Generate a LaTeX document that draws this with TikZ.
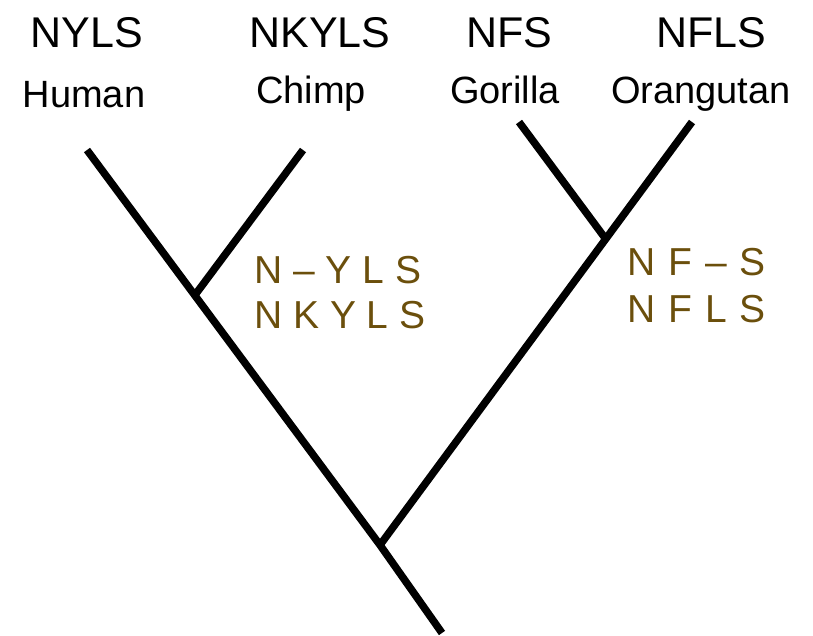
\documentclass[tikz,border=0pt]{standalone}
\usepackage{fontspec}
\setmainfont{Liberation Sans}
\newfontfamily\widesans[LetterSpace=5.5]{Liberation Sans}
\definecolor{seqbrown}{HTML}{6B4F0C}
\begin{document}
\begin{tikzpicture}[x=1pt,y=-1pt,
  branch/.style={line width=7.5pt, line cap=butt, line join=miter},
  taxon/.style={font=\fontsize{43}{43}\selectfont, anchor=base, inner sep=0pt},
  species/.style={font=\fontsize{38}{38}\selectfont, anchor=base, inner sep=0pt},
  seq/.style={font=\fontsize{39}{39}\selectfont, text=seqbrown, anchor=base west, inner sep=0pt},
  seqwide/.style={font=\widesans\fontsize{39}{39}\selectfont, text=seqbrown, anchor=base west, inner sep=0pt}]
\useasboundingbox (0,0) rectangle (813,636);
% coordinates
\coordinate (human) at (87,150);
\coordinate (chimp) at (303,150);
\coordinate (gorilla) at (519,122);
\coordinate (orang) at (692,122);
\coordinate (hc) at (195,295);
\coordinate (go) at (605,238);
\coordinate (root) at (380,545);
\coordinate (base) at (442,633);
% branches
\draw[branch] (human) -- (root) -- (base);
\draw[branch] (hc) -- (chimp);
\draw[branch] (root) -- (orang);
\draw[branch] (go) -- (gorilla);
% labels
\node[taxon] (t1) at (87,48) {NYLS};
\node[taxon] (t2) at (320,48) {NKYLS};
\node[taxon] (t3) at (509,48) {NFS};
\node[taxon] (t4) at (711,48) {NFLS};
\node[species] (s1) at (84,108) {Human};
\node[species] (s2) at (311,104) {Chimp};
\node[species] (s3) at (505,104) {Gorilla};
\node[species] (s4) at (701,104) {Orangutan};
% ancestral sequences
\node[seq] (a1) at (254,283) {N – Y L S};
\node[seq] (a2) at (254,328) {N K Y L S};
\node[seqwide] (b1) at (627,275) {N F – S};
\node[seqwide] (b2) at (627,322) {N F L S};
\end{tikzpicture}
\end{document}
